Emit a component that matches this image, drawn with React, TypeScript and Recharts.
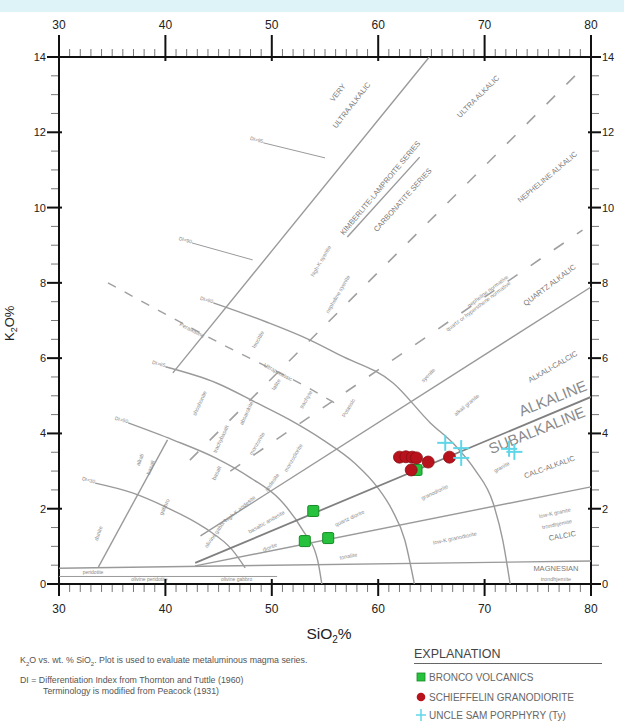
import React from 'react';
import { ComposedChart, Scatter, XAxis, YAxis } from 'recharts';

// ---------- axis ticks ----------
const xTicks = [30,31,32,33,34,35,36,37,38,39,40,41,42,43,44,45,46,47,48,49,50,51,52,53,54,55,56,57,58,59,60,61,62,63,64,65,66,67,68,69,70,71,72,73,74,75,76,77,78,79,80];
const yTicks = [0,0.5,1,1.5,2,2.5,3,3.5,4,4.5,5,5.5,6,6.5,7,7.5,8,8.5,9,9.5,10,10.5,11,11.5,12,12.5,13,13.5,14];
const xMajorLabels = [30, 40, 50, 60, 70, 80];
const yMajorLabels = [0, 2, 4, 6, 8, 10, 12, 14];
const frameCorners = [{ x: 30, y: 0 }, { x: 80, y: 14 }];

// ---------- samples ----------
const broncoVolcanics = [
  { x: 53.9, y: 1.94 }, { x: 53.1, y: 1.14 }, { x: 55.3, y: 1.22 }, { x: 63.6, y: 3.03 },
];
const schieffelinGranodiorite = [
  { x: 62.0, y: 3.37 }, { x: 62.6, y: 3.38 }, { x: 63.2, y: 3.37 }, { x: 63.6, y: 3.35 },
  { x: 64.7, y: 3.24 }, { x: 66.7, y: 3.37 }, { x: 63.1, y: 3.03 },
];
const uncleSamPorphyry = [
  { x: 66.3, y: 3.75 }, { x: 67.8, y: 3.61 }, { x: 67.8, y: 3.35 }, { x: 72.3, y: 3.59 }, { x: 72.8, y: 3.51 },
];

// ---------- diagram boundaries ----------
const steepLine = [{ x: 40.7, y: 5.61 }, { x: 64.8, y: 14 }];
const lowerSteepLine = [{ x: 33.7, y: 0.45 }, { x: 40.2, y: 3.83 }];
const alkalineBoundary = [{ x: 42.8, y: 0.56 }, { x: 80, y: 4.97 }];
const calcicBoundary = [{ x: 42.8, y: 0.48 }, { x: 80, y: 2.58 }];
const quartzAlkalicBoundary = [{ x: 43.3, y: 1.28 }, { x: 80, y: 7.89 }];
const magnesianLine = [{ x: 30, y: 0.42 }, { x: 80, y: 0.61 }];
const ultramaficLine = [{ x: 30, y: 0.2 }, { x: 50.5, y: 0.2 }];
const kimberliteLine = [{ x: 57.1, y: 9.22 }, { x: 63.9, y: 11.34 }];
const nephelineDashed = [{ x: 42.3, y: 3.29 }, { x: 79.2, y: 13.7 }];
const quartzDashed = [{ x: 46.1, y: 3.0 }, { x: 79.2, y: 9.4 }];
const peralkalineDashed = [{ x: 34.6, y: 8.0 }, { x: 45.8, y: 6.3 }, { x: 53.3, y: 5.23 }, { x: 56.6, y: 4.7 }];

const arcDI1 = [{ x: 33.4, y: 2.68 }, { x: 36.9, y: 2.42 }, { x: 40.0, y: 2.05 }, { x: 43.7, y: 1.49 }, { x: 46.3, y: 0.9 }, { x: 47.5, y: 0.43 }];
const arcDI2 = [{ x: 36.5, y: 4.28 }, { x: 40.7, y: 3.83 }, { x: 44.7, y: 3.35 }, { x: 48.0, y: 2.82 }, { x: 50.8, y: 2.23 }, { x: 52.9, y: 1.43 }, { x: 54.3, y: 0.64 }, { x: 54.7, y: 0 }];
const arcDI3 = [{ x: 40.0, y: 5.77 }, { x: 44.8, y: 5.34 }, { x: 48.6, y: 4.81 }, { x: 51.7, y: 4.36 }, { x: 54.8, y: 3.83 }, { x: 57.8, y: 3.21 }, { x: 59.9, y: 2.58 }, { x: 61.3, y: 1.97 }, { x: 62.5, y: 1.17 }, { x: 63.4, y: 0 }];
const arcDI4 = [{ x: 44.5, y: 7.47 }, { x: 49.5, y: 6.96 }, { x: 53.6, y: 6.48 }, { x: 56.4, y: 6.08 }, { x: 61.4, y: 5.34 }, { x: 64.9, y: 4.28 }, { x: 67.2, y: 3.69 }, { x: 69.1, y: 3.03 }, { x: 70.8, y: 2.15 }, { x: 71.7, y: 1.17 }, { x: 72.4, y: 0 }];
const leaderDI5 = [{ x: 42.5, y: 9.06 }, { x: 48.2, y: 8.61 }];
const leaderDI6 = [{ x: 49.2, y: 11.72 }, { x: 55.0, y: 11.32 }];

// ---------- annotations (data position, text, angle) ----------
const seriesLabels = [
  { x: 56.2, y: 13.05, text: 'VERY', angle: -52 },
  { x: 57.5, y: 12.72, text: 'ULTRA ALKALIC', angle: -52 },
  { x: 69.4, y: 12.95, text: 'ULTRA ALKALIC', angle: -45 },
  { x: 60.2, y: 10.52, text: 'KIMBERLITE-LAMPROITE SERIES', angle: -50 },
  { x: 62.3, y: 10.2, text: 'CARBONATITE SERIES', angle: -48 },
  { x: 75.9, y: 10.81, text: 'NEPHELINE ALKALIC', angle: -40 },
  { x: 76.1, y: 7.94, text: 'QUARTZ ALKALIC', angle: -37 },
  { x: 76.4, y: 5.77, text: 'ALKALI-CALCIC', angle: -30 },
  { x: 76.1, y: 3.11, text: 'CALC-ALKALIC', angle: -20 },
  { x: 77.3, y: 1.28, text: 'CALCIC', angle: -10 },
  { x: 76.7, y: 0.4, text: 'MAGNESIAN', angle: 0 },
];
const bigLabels = [
  { x: 76.4, y: 4.94, text: 'ALKALINE', angle: -22 },
  { x: 74.9, y: 4.09, text: 'SUBALKALINE', angle: -22 },
];
const rockLabels = [
  { x: 70.3, y: 7.78, text: 'nepheline normative', angle: -37 },
  { x: 69.4, y: 7.38, text: 'quartz or hypersthene normative', angle: -37 },
  { x: 76.6, y: 1.89, text: 'low-K granite', angle: -12 },
  { x: 76.8, y: 1.59, text: 'trondhjemite', angle: -12 },
  { x: 76.7, y: 0.13, text: 'trondhjemite', angle: 0 },
  { x: 71.6, y: 3.11, text: 'granite', angle: -30 },
  { x: 65.3, y: 2.44, text: 'granodiorite', angle: -25 },
  { x: 67.2, y: 1.22, text: 'low-K granodiorite', angle: -12 },
  { x: 57.2, y: 0.74, text: 'tonalite', angle: -10 },
  { x: 57.3, y: 1.75, text: 'quartz diorite', angle: -25 },
  { x: 49.8, y: 0.98, text: 'diorite', angle: -22 },
  { x: 68.3, y: 4.76, text: 'alkali granite', angle: -40 },
  { x: 64.7, y: 5.55, text: 'syenite', angle: -45 },
  { x: 57.2, y: 4.68, text: 'Potassic', angle: -60 },
  { x: 42.5, y: 6.75, text: 'Peralkaline', angle: 27 },
  { x: 50.6, y: 5.63, text: 'Ultrapotassic', angle: 28 },
  { x: 54.6, y: 8.58, text: 'high-K syenite', angle: -60 },
  { x: 56.2, y: 7.7, text: 'nepheline syenite', angle: -60 },
  { x: 48.7, y: 6.5, text: 'leucitite', angle: -60 },
  { x: 43.2, y: 4.8, text: 'shoshonite', angle: -65 },
  { x: 47.6, y: 4.54, text: 'absarokite', angle: -65 },
  { x: 50.4, y: 5.3, text: 'latite', angle: -60 },
  { x: 53.2, y: 4.9, text: 'trachyte', angle: -60 },
  { x: 48.6, y: 3.73, text: 'monzonite', angle: -60 },
  { x: 52.0, y: 3.35, text: 'monzodiorite', angle: -60 },
  { x: 45.2, y: 3.85, text: 'trachybasalt', angle: -65 },
  { x: 37.6, y: 3.3, text: 'alkali', angle: -70 },
  { x: 38.6, y: 3.1, text: 'basalt', angle: -70 },
  { x: 44.8, y: 2.95, text: 'basalt', angle: -65 },
  { x: 50.0, y: 2.7, text: 'andesite', angle: -55 },
  { x: 39.9, y: 2.05, text: 'gabbro', angle: -65 },
  { x: 44.7, y: 1.35, text: 'olivine gabbro', angle: -55 },
  { x: 33.7, y: 1.35, text: 'dunite', angle: -70 },
  { x: 47.0, y: 2.0, text: 'high-K andesite', angle: -40 },
  { x: 49.5, y: 1.65, text: 'basaltic andesite', angle: -30 },
];
const diLabels = [
  { x: 33.4, y: 2.72, text: 'DI=30' },
  { x: 36.5, y: 4.32, text: 'DI=50' },
  { x: 40.0, y: 5.81, text: 'DI=65' },
  { x: 44.5, y: 7.51, text: 'DI=80' },
  { x: 42.5, y: 9.1, text: 'DI=90' },
  { x: 49.2, y: 11.76, text: 'DI=95' },
];
const baseLabels = [
  { x: 33.2, y: 0.32, text: 'peridotite' },
  { x: 38.5, y: 0.13, text: 'olivine peridotite' },
  { x: 46.7, y: 0.13, text: 'olivine gabbro' },
];

const FONT = 'Liberation Sans, Arial, sans-serif';

// ---------- shapes ----------
const NoShape = () => <g />;
const SquareShape = (p: any) => (
  <rect x={p.cx - 5.5} y={p.cy - 5.5} width={11} height={11} rx={1.5} fill="#27c23d" stroke="#178a26" strokeWidth={1} />
);
const CircleShape = (p: any) => (
  <circle cx={p.cx} cy={p.cy} r={6} fill="#b8121c" stroke="#8a0d14" strokeWidth={0.8} />
);
const CrossShape = (p: any) => (
  <g stroke="#5fd6e8" strokeWidth={2}>
    <line x1={p.cx - 8} y1={p.cy} x2={p.cx + 8} y2={p.cy} />
    <line x1={p.cx} y1={p.cy - 8} x2={p.cx} y2={p.cy + 8} />
  </g>
);
const makeTextShape = (size: number, color: string, angled: boolean) => (p: any) => {
  const a = angled ? p.payload.angle || 0 : 0;
  return (
    <text x={p.cx} y={p.cy} transform={`rotate(${a} ${p.cx} ${p.cy})`} textAnchor="middle" dominantBaseline="central"
      fontSize={size} fill={color} fontFamily={FONT}>{p.payload.text}</text>
  );
};
const SeriesText = makeTextShape(7.5, '#7a7a7a', true);
const BigText = makeTextShape(15, '#8a8a8a', true);
const RockText = makeTextShape(5.5, '#8c8c8c', true);
const DIText = (p: any) => (
  <text x={p.cx} y={p.cy} transform={`rotate(15 ${p.cx} ${p.cy})`} textAnchor="end" dominantBaseline="central" fontSize={5} fill="#888" fontFamily={FONT}>{p.payload.text}</text>
);
const BaseText = makeTextShape(5, '#888', false);

// ---------- ticks ----------
const tickLabelStyle = { fontSize: 12, fill: '#222', fontFamily: FONT };
const BottomTick = (p: any) => {
  const v = p.payload.value;
  const major = xMajorLabels.includes(v);
  return (
    <g>
      {major ? <line x1={p.x} y1={p.y - 5} x2={p.x} y2={p.y + 12} stroke="#111" strokeWidth={2} />
        : <line x1={p.x} y1={p.y + 1} x2={p.x} y2={p.y + 8} stroke="#777" strokeWidth={1} />}
      {major && <text x={p.x} y={p.y + 25} textAnchor="middle" dominantBaseline="central" {...tickLabelStyle}>{v}</text>}
    </g>
  );
};
const TopTick = (p: any) => {
  const v = p.payload.value;
  const major = xMajorLabels.includes(v);
  return (
    <g>
      {major ? <line x1={p.x} y1={p.y + 4} x2={p.x} y2={p.y - 22} stroke="#111" strokeWidth={2} />
        : <line x1={p.x} y1={p.y - 1} x2={p.x} y2={p.y - 8} stroke="#777" strokeWidth={1} />}
      {major && <text x={p.x} y={p.y - 32} textAnchor="middle" dominantBaseline="central" {...tickLabelStyle}>{v}</text>}
    </g>
  );
};
const LeftTick = (p: any) => {
  const v = p.payload.value;
  const major = yMajorLabels.includes(v);
  return (
    <g>
      {major ? <line x1={p.x + 3} y1={p.y} x2={p.x - 12} y2={p.y} stroke="#111" strokeWidth={2} />
        : <line x1={p.x - 1} y1={p.y} x2={p.x - 8} y2={p.y} stroke="#777" strokeWidth={1} />}
      {major && <text x={p.x - 13} y={p.y} textAnchor="end" dominantBaseline="central" {...tickLabelStyle} fontSize={11}>{v}</text>}
    </g>
  );
};
const RightTick = (p: any) => {
  const v = p.payload.value;
  const major = yMajorLabels.includes(v);
  return (
    <g>
      {major ? <line x1={p.x - 3} y1={p.y} x2={p.x + 10} y2={p.y} stroke="#111" strokeWidth={2} />
        : <line x1={p.x + 1} y1={p.y} x2={p.x + 8} y2={p.y} stroke="#777" strokeWidth={1} />}
      {major && <text x={p.x + 11} y={p.y} textAnchor="start" dominantBaseline="central" {...tickLabelStyle} fontSize={11}>{v}</text>}
    </g>
  );
};

const solid = { stroke: '#9a9a9a', strokeWidth: 1.4, fill: 'none' };
const darker = { stroke: '#808080', strokeWidth: 1.8, fill: 'none' };
const dashedLong = { stroke: '#a0a0a0', strokeWidth: 1.6, strokeDasharray: '12 16', fill: 'none' };
const dashedShort = { stroke: '#a0a0a0', strokeWidth: 1.4, strokeDasharray: '9 10', fill: 'none' };

const lineProps = (data: any[], style: any, curve = 'linear') => ({
  data, line: style, lineJointType: curve as any, shape: NoShape, isAnimationActive: false,
  xAxisId: 'b', yAxisId: 'l', legendType: 'none' as any,
});

const legendItems = [
  { name: 'BRONCO VOLCANICS', kind: 'square' },
  { name: 'SCHIEFFELIN GRANODIORITE', kind: 'circle' },
  { name: 'UNCLE SAM PORPHYRY (Ty)', kind: 'cross' },
];

export default function App() {
  return (
    <div style={{ position: 'absolute', left: 0, top: 0, width: 624, height: 724, background: '#fff', overflow: 'hidden', fontFamily: FONT }}>
      <div style={{ position: 'absolute', left: 0, top: 0, width: 624, height: 12, background: '#def3f8' }} />
      <div style={{ position: 'absolute', left: 0, top: 0 }}>
        <ComposedChart width={624} height={724} margin={{ top: 27, right: 3, bottom: 110, left: 29 }}>
          <XAxis xAxisId="b" type="number" dataKey="x" domain={[30, 80]} ticks={xTicks} interval={0} orientation="bottom" height={30}
            allowDataOverflow tickSize={0} tickMargin={0} tickLine={false} axisLine={{ stroke: '#111', strokeWidth: 2 }} tick={BottomTick} />
          <XAxis xAxisId="t" type="number" dataKey="x" domain={[30, 80]} ticks={xTicks} interval={0} orientation="top" height={30}
            allowDataOverflow tickSize={0} tickMargin={0} tickLine={false} axisLine={{ stroke: '#111', strokeWidth: 2 }} tick={TopTick} />
          <YAxis yAxisId="l" type="number" dataKey="y" domain={[0, 14]} ticks={yTicks} interval={0} orientation="left" width={30}
            allowDataOverflow tickSize={0} tickMargin={0} tickLine={false} axisLine={{ stroke: '#111', strokeWidth: 2 }} tick={LeftTick} />
          <YAxis yAxisId="r" type="number" dataKey="y" domain={[0, 14]} ticks={yTicks} interval={0} orientation="right" width={30}
            allowDataOverflow tickSize={0} tickMargin={0} tickLine={false} axisLine={{ stroke: '#111', strokeWidth: 2 }} tick={RightTick} />

          <Scatter xAxisId="t" yAxisId="r" data={frameCorners} shape={NoShape} isAnimationActive={false} />

          <Scatter {...lineProps(magnesianLine, solid)} />
          <Scatter {...lineProps(ultramaficLine, { ...solid, strokeWidth: 1 })} />
          <Scatter {...lineProps(steepLine, solid)} />
          <Scatter {...lineProps(lowerSteepLine, solid)} />
          <Scatter {...lineProps(calcicBoundary, solid)} />
          <Scatter {...lineProps(quartzAlkalicBoundary, solid)} />
          <Scatter {...lineProps(kimberliteLine, solid)} />
          <Scatter {...lineProps(nephelineDashed, dashedLong)} />
          <Scatter {...lineProps(quartzDashed, dashedLong)} />
          <Scatter {...lineProps(peralkalineDashed, dashedShort, 'monotoneX')} />
          <Scatter {...lineProps(arcDI1, solid, 'monotoneX')} />
          <Scatter {...lineProps(arcDI2, solid, 'monotoneX')} />
          <Scatter {...lineProps(arcDI3, solid, 'monotoneX')} />
          <Scatter {...lineProps(arcDI4, solid, 'monotoneX')} />
          <Scatter {...lineProps(leaderDI5, { ...solid, strokeWidth: 1 })} />
          <Scatter {...lineProps(leaderDI6, { ...solid, strokeWidth: 1 })} />
          <Scatter {...lineProps(alkalineBoundary, darker)} />

          <Scatter xAxisId="b" yAxisId="l" data={rockLabels} shape={RockText} isAnimationActive={false} />
          <Scatter xAxisId="b" yAxisId="l" data={diLabels} shape={DIText} isAnimationActive={false} />
          <Scatter xAxisId="b" yAxisId="l" data={baseLabels} shape={BaseText} isAnimationActive={false} />
          <Scatter xAxisId="b" yAxisId="l" data={seriesLabels} shape={SeriesText} isAnimationActive={false} />
          <Scatter xAxisId="b" yAxisId="l" data={bigLabels} shape={BigText} isAnimationActive={false} />

          <Scatter name="BRONCO VOLCANICS" xAxisId="b" yAxisId="l" data={broncoVolcanics} shape={SquareShape} isAnimationActive={false} />
          <Scatter name="SCHIEFFELIN GRANODIORITE" xAxisId="b" yAxisId="l" data={schieffelinGranodiorite} shape={CircleShape} isAnimationActive={false} />
          <Scatter name="UNCLE SAM PORPHYRY (Ty)" xAxisId="b" yAxisId="l" data={uncleSamPorphyry} shape={CrossShape} isAnimationActive={false} />
        </ComposedChart>
      </div>

      {/* axis titles */}
      <div style={{ position: 'absolute', left: 294, top: 624, width: 70, textAlign: 'center', fontSize: 15.5, color: '#222', lineHeight: '20px' }}>
        SiO<sub style={{ fontSize: 10 }}>2</sub>%
      </div>
      <div style={{ position: 'absolute', left: -23, top: 312, width: 70, textAlign: 'center', fontSize: 13, color: '#222', lineHeight: '18px', transform: 'rotate(-90deg)' }}>
        K<sub style={{ fontSize: 9 }}>2</sub>O%
      </div>

      {/* notes */}
      <div style={{ position: 'absolute', left: 20, top: 655, fontSize: 8.8, color: '#555', lineHeight: '11px', whiteSpace: 'nowrap' }}>
        K<sub style={{ fontSize: 6 }}>2</sub>O vs. wt. % SiO<sub style={{ fontSize: 6 }}>2</sub>. Plot is used to evaluate metaluminous magma series.
      </div>
      <div style={{ position: 'absolute', left: 20, top: 675, fontSize: 8.8, color: '#555', lineHeight: '10px', whiteSpace: 'nowrap' }}>
        DI = Differentiation Index from Thornton and Tuttle (1960)
      </div>
      <div style={{ position: 'absolute', left: 43, top: 686, fontSize: 8.8, color: '#555', lineHeight: '10px', whiteSpace: 'nowrap' }}>
        Terminology is modified from Peacock (1931)
      </div>

      {/* explanation */}
      <div style={{ position: 'absolute', left: 414, top: 647, fontSize: 12.5, color: '#444', lineHeight: '15px' }}>EXPLANATION</div>
      <div style={{ position: 'absolute', left: 414, top: 663, width: 188, height: 1, background: '#666' }} />
      {legendItems.map((it, i) => (
        <div key={it.name} style={{ position: 'absolute', left: 414, top: [671, 691, 709][i], height: 12, display: 'flex', alignItems: 'center', whiteSpace: 'nowrap' }}>
          <svg width={14} height={12} style={{ display: 'block' }}>
            {it.kind === 'square' && <rect x={3} y={2} width={8} height={8} fill="#27c23d" stroke="#178a26" strokeWidth={0.8} />}
            {it.kind === 'circle' && <circle cx={7} cy={6} r={4.3} fill="#b8121c" />}
            {it.kind === 'cross' && <g stroke="#5fd6e8" strokeWidth={1.5}><line x1={2} y1={6} x2={12} y2={6} /><line x1={7} y1={0} x2={7} y2={12} /></g>}
          </svg>
          <span style={{ fontSize: 10, color: '#666', marginLeft: 1 }}>{it.name}</span>
        </div>
      ))}
    </div>
  );
}
